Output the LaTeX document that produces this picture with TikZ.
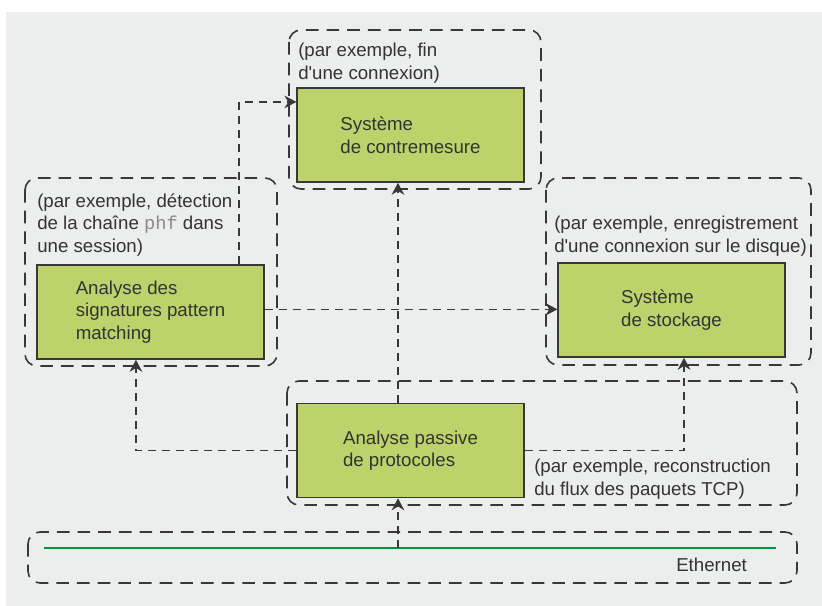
\documentclass[tikz,border=0pt]{standalone}
\usepackage{fontspec}
\setmainfont{Liberation Sans}
\setmonofont{Liberation Mono}
\usetikzlibrary{arrows.meta,calc}
\definecolor{panelgray}{HTML}{ECEDED}
\definecolor{boxgreen}{HTML}{BCD36C}
\definecolor{linegray}{HTML}{383838}
\definecolor{textgray}{HTML}{333333}
\definecolor{ethgreen}{HTML}{00963F}
\definecolor{codegray}{HTML}{8A8A8A}
\tikzset{
  box/.style  = {rectangle, draw=linegray, fill=boxgreen, line width=1.2pt,
                 minimum width=170pt, minimum height=70.5pt, align=left,
                 text=textgray, inner sep=0pt},
  note/.style = {anchor=north west, align=left, text=textgray, inner sep=0pt},
  grp/.style  = {draw=linegray, line width=1.2pt, rounded corners=9pt,
                 dash pattern=on 9.5pt off 6pt},
  ar/.style   = {-{Stealth[length=9pt,width=9.5pt]}, draw=linegray,
                 line width=1.2pt, dash pattern=on 6pt off 4.5pt}
}

\begin{document}
\begin{tikzpicture}[x=0.75pt, y=-0.75pt, font=\fontsize{14}{16.9}\selectfont]
    % fond
    \fill[white] (0,0) rectangle (822,606);
    \fill[panelgray] (6,12) rectangle (822,606);
    \useasboundingbox (0,0) rectangle (822,606);

    % zones en pointillés
    \draw[grp] (289,30) rectangle (541,189);
    \draw[grp] (25,178) rectangle (277,366);
    \draw[grp] (546,178) rectangle (811,365);
    \draw[grp] (287,381) rectangle (797,505);
    \draw[grp] (28,532) rectangle (797,583);

    % blocs
    \node[box] (cm)  at (410.5,135)   {Système\\de contremesure};
    \node[box] (sig) at (150.5,312)   {Analyse des\\signatures pattern\\matching};
    \node[box] (sto) at (671.5,310)   {Système\\de stockage};
    \node[box] (pas) at (410.5,450.5) {Analyse passive\\de protocoles};

    % exemples
    \node[note] (ncm)  at (298,43)  {(par exemple, fin\\d\textquotesingle une connexion)};
    \node[note] (nsig) at (37,193)  {(par exemple, détection\\de la chaîne \textcolor{codegray}{\texttt{phf}} dans\\une session)};
    \node[note] (nsto) at (554,216) {(par exemple, enregistrement\\d\textquotesingle une connexion sur le disque)};
    \node[note] (npas) at (534,459) {(par exemple, reconstruction\\du flux des paquets TCP)};
    \node[note] (neth) at (676,558) {Ethernet};

    % bus Ethernet
    \coordinate (eth-l) at (44,548);
    \coordinate (eth-r) at (776,548);
    \coordinate (tap)   at (398,548);
    \draw[ethgreen, line width=1.5pt] (eth-l) -- (eth-r);

    % flux
    \draw[ar] (tap) -- (tap |- pas.south);
    \draw[ar] ([xshift=-9.4pt]pas.north) -- ([xshift=-9.4pt]cm.south);
    \draw[ar] (pas.west) -| ([xshift=-10.9pt]sig.south);
    \draw[ar] (pas.east) -| ([xshift=9.4pt]sto.south);
    \draw[ar] ([yshift=2pt]sig.east) -- ([yshift=2pt]sig.east -| sto.west);
    \draw[ar] ([xshift=66.4pt]sig.north) |- ([yshift=24.8pt]cm.west);
\end{tikzpicture}
\end{document}
